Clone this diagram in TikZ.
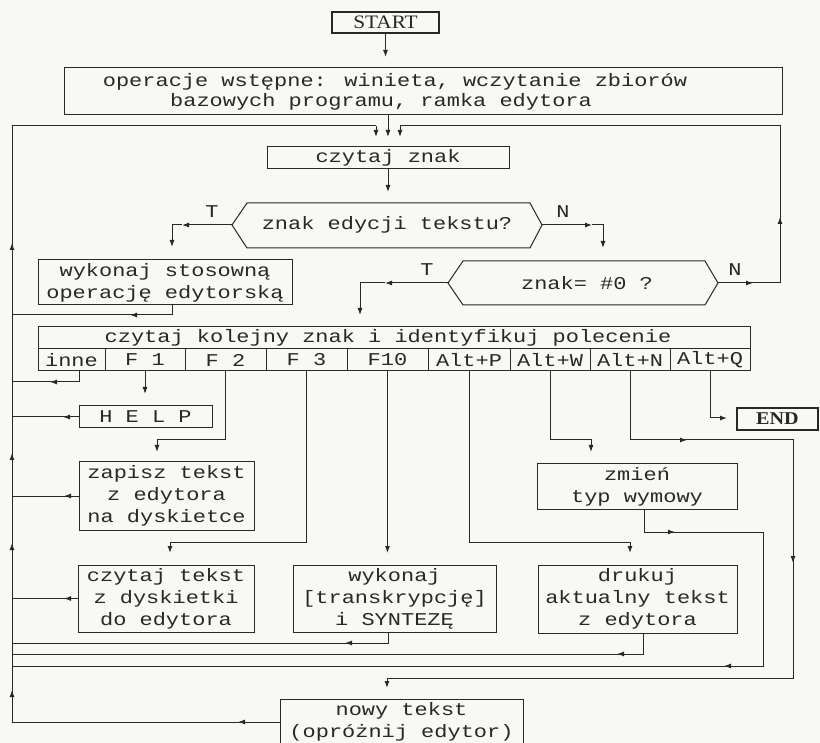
\documentclass[tikz,border=0pt]{standalone}
\usepackage{fontspec}
\usetikzlibrary{arrows.meta}
\newfontfamily\monof{Liberation Mono}[FakeStretch=1.22]
\newfontfamily\seriff{Liberation Serif}[FakeStretch=1.12]
\definecolor{ink}{RGB}{40,40,40}
\definecolor{paper}{RGB}{248,249,245}
\tikzset{
  ln/.style={draw=ink, line width=1pt},
  arr/.style={-{Latex[length=7pt,width=5pt]}},
  box/.style={draw=ink, line width=1pt, inner sep=0pt, align=center, text=ink,
    font=\monof\fontsize{18}{22}\selectfont},
  txt/.style={inner sep=0pt, align=center, text=ink, font=\monof\fontsize{18}{22}\selectfont},
  cell/.style={box, minimum height=22pt},
}
\begin{document}
\begin{tikzpicture}[x=1pt,y=-1pt]
\useasboundingbox (0,0) rectangle (820,743);
\clip (0,0) rectangle (820,743);
\fill[paper] (0,0) rectangle (820,743);
\coordinate (L) at (12,126);
\coordinate (R) at (780,126);

% boxes
\node[box, minimum width=107pt, minimum height=21pt, line width=1.3pt,
  font=\seriff\fontsize{19}{22}\selectfont] (start) at (385.5,22.5) {START};
\node[box, minimum width=718pt, minimum height=47pt] (op) at (423,91.5) {};
\node[txt] (op1) at (395,82) {operacje wstępne: winieta, wczytanie zbiorów};
\node[txt] (op2) at (381,102) {bazowych programu, ramka edytora};
\node[box, minimum width=242pt, minimum height=22pt] (cz) at (388,158) {czytaj znak};

% decisions
\coordinate (d1w) at (232,225);
\coordinate (d1e) at (542,225);
\draw[ln] (d1w) -- (247,203) -- (530,203) -- (d1e) -- (530,248) -- (247,248) -- cycle;
\node[txt] (d1) at (387,225) {znak edycji tekstu?};
\coordinate (d2w) at (448,283);
\coordinate (d2e) at (718,283);
\draw[ln] (d2w) -- (463,261) -- (705,261) -- (d2e) -- (705,305) -- (463,305) -- cycle;
\node[txt] (d2) at (587,283) {znak= \#0 ?};
\node[txt] (t1) at (212,212) {T};
\node[txt] (n1) at (563,212) {N};
\node[txt] (t2) at (427,270) {T};
\node[txt] (n2) at (735,270) {N};

\node[box, minimum width=254pt, minimum height=45pt] (ws) at (165,282.5)
  {wykonaj stosowną\\operację edytorską};

% command table
\node[box, minimum width=712pt, minimum height=22pt] (ck) at (394,338) {};
\node[txt] (ckt) at (388,338) {czytaj kolejny znak i identyfikuj polecenie};
\node[cell, minimum width=67pt] (inne) at (71.5,360) {inne};
\node[cell, minimum width=80pt] (f1) at (145,360) {F 1};
\node[cell, minimum width=81pt] (f2) at (225.5,360) {F 2};
\node[cell, minimum width=81pt] (f3) at (306.5,360) {F 3};
\node[cell, minimum width=81pt] (f10) at (387.5,360) {F10};
\node[cell, minimum width=82pt] (altp) at (469,360) {Alt+P};
\node[cell, minimum width=80pt] (altw) at (550,360) {Alt+W};
\node[cell, minimum width=80pt] (altn) at (630,360) {Alt+N};
\node[cell, minimum width=80pt] (altq) at (710,360) {Alt+Q};

\node[box, minimum width=133pt, minimum height=22pt] (help) at (145.5,417) {H E L P};
\node[box, minimum width=81pt, minimum height=22pt, line width=1.2pt,
  font=\seriff\bfseries\fontsize{18}{22}\selectfont] (end) at (777.5,419) {END};
\node[box, minimum width=175pt, minimum height=68pt] (zap) at (166.5,496)
  {zapisz tekst\\z edytora\\na dyskietce};
\node[box, minimum width=200pt, minimum height=45pt] (zm) at (637,486.5)
  {zmień\\typ wymowy};
\node[box, minimum width=176pt, minimum height=67pt] (czt) at (166,598.5)
  {czytaj tekst\\z dyskietki\\do edytora};
\node[box, minimum width=203pt, minimum height=67pt] (wyk) at (394.5,598.5)
  {wykonaj\\{[}transkrypcję{]}\\i SYNTEZĘ};
\node[box, minimum width=199pt, minimum height=68pt] (dr) at (637.5,599)
  {drukuj\\aktualny tekst\\z edytora};
\node[box, minimum width=243pt, minimum height=46pt] (nowy) at (401.5,722)
  {nowy tekst\\(opróżnij edytor)};

% main flow
\draw[ln,arr] (start.south) -- (385.5,57);
\draw[ln,arr] (388,115) -- (388,137);
\draw[ln] (nowy.west) -- (12,722) -- (L) -- (376,126);
\draw[ln,arr] (376,126) -- (376,137);
\draw[ln] (d2e) -- (780,283) -- (R) -- (400,126);
\draw[ln,arr] (400,126) -- (400,137);
\draw[ln,arr] (d2e) -- (753,283);
\draw[ln,arr] (780,232) -- (780,217);
\foreach \yy in {243,453,543,690} \draw[ln,arr] (12,\yy+14) -- (12,\yy);
\draw[ln,arr] (cz.south) -- (388,192);

% decision branches
\draw[ln,arr] (d1w) -- (182,225);
\draw[ln,arr] (182,225) -- (172,225) -- (172,247);
\draw[ln,arr] (d1e) -- (592,225);
\draw[ln,arr] (592,225) -- (603,225) -- (603,248);
\draw[ln,arr] (d2w) -- (385,283);
\draw[ln,arr] (385,283) -- (360,283) -- (360,315);

% returns to the left loop
\draw[ln] ([xshift=7pt]ws.south) -- (172,315) -- (12,315);
\draw[ln,arr] (172,315) -- (130,315);
\draw[ln] ([xshift=7.5pt]inne.south) -- (79,382) -- (12,382);
\draw[ln,arr] (79,382) -- (50,382);
\draw[ln] (help.west) -- (help.west -| L);
\draw[ln,arr] (help.west) -- (63,417);
\draw[ln] (zap.west) -- (zap.west -| L);
\draw[ln,arr] (zap.west) -- (64,496);
\draw[ln] (czt.west) -- (czt.west -| L);
\draw[ln,arr] (czt.west) -- (64,598.5);
\draw[ln] (388,632) -- (388,643) -- (12,643);
\draw[ln,arr] (388,643) -- (345,643);
\draw[ln] (643,633) -- (643,654) -- (12,654);
\draw[ln,arr] (643,654) -- (617,654);
\draw[ln,arr] (nowy.west) -- (238,722);

% command branches
\draw[ln,arr] (f1.south) -- (145,394);
\draw[ln,arr] (f2.south) -- (225.5,440) -- (157,440) -- (157,452);
\draw[ln,arr] (f3.south) -- (306.5,542) -- (170,542) -- (170,553);
\draw[ln,arr] (f10.south) -- (387.5,553);
\draw[ln,arr] (altp.south) -- (469,542) -- (630,542) -- (630,553);
\draw[ln,arr] (altw.south) -- (550,440) -- (591,440) -- (591,452);
\draw[ln] (altn.south) -- (630,440) -- (793,440) -- (793,678) -- (387,678);
\draw[ln,arr] (630,440) -- (687,440);
\draw[ln,arr] (793,548) -- (793,563);
\draw[ln,arr] (387,678) -- (387,688);
\draw[ln,arr] (altq.south) -- (710,418) -- (727,418);
\draw[ln] (644,509) -- (644,532) -- (763,532) -- (763,666) -- (12,666);
\draw[ln,arr] (644,532) -- (675,532);
\draw[ln,arr] (763,666) -- (724,666);
\end{tikzpicture}
\end{document}
